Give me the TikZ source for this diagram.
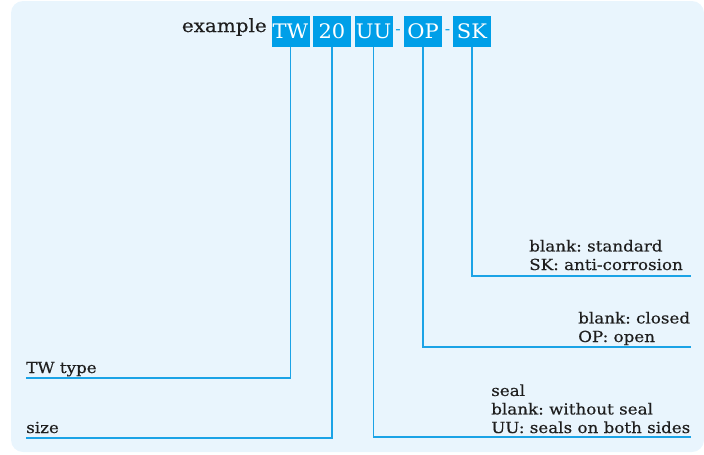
\documentclass[tikz,border=0pt]{standalone}
\usepackage{fontspec}
\setmainfont{DejaVu Serif}
\newfontfamily\labfont[FakeStretch=1.1,FakeBold=0.4]{DejaVu Serif}
\newfontfamily\codefont[FakeStretch=1.05]{DejaVu Serif}
\definecolor{bgblue}{HTML}{E9F5FD}
\definecolor{boxblue}{HTML}{009FE8}
\definecolor{lineblue}{HTML}{1BA3E6}
\definecolor{txt}{HTML}{1E1E1E}
\begin{document}
\frenchspacing
\begin{tikzpicture}[x=0.75pt,y=-0.75pt,
  codebox/.style={fill=boxblue,text=white,minimum width=28.5pt,minimum height=23.5pt,inner sep=0pt,font=\codefont\fontsize{15}{17}\selectfont},
  lab/.style={text=txt,anchor=base west,inner sep=0pt,align=left,font=\labfont\fontsize{11.4}{13.9}\selectfont},
  conn/.style={draw=lineblue,line width=1.1pt}]
\useasboundingbox (0,0) rectangle (704,454);
\fill[bgblue,rounded corners=9pt] (11,1) rectangle (704,452);
\node[text=txt,anchor=base east,inner sep=0pt,font=\labfont\fontsize{13.6}{15}\selectfont] (ex) at (267,32) {example};
\node[codebox] (tw) at (290.5,31.5) {TW};
\node[codebox] (sz) at (332,31.5) {20};
\node[codebox] (uu) at (373.5,31.5) {UU};
\node[codebox] (op) at (423,31.5) {OP};
\node[codebox] (sk) at (472,31.5) {SK};
\node[text=boxblue,inner sep=0pt,font=\fontsize{12}{14}\selectfont] (d1) at (398,32) {-};
\node[text=boxblue,inner sep=0pt,font=\fontsize{12}{14}\selectfont] (d2) at (447.5,32) {-};
% labels (anchored at the baseline of the last line)
\node[lab] (twl) at (26,373) {TW type};
\node[lab] (szl) at (26,433) {size};
\node[lab] (skl) at (529,270) {blank: standard\\SK: anti-corrosion};
\node[lab] (opl) at (578,342) {blank: closed\\OP: open};
\node[lab] (uul) at (491,433) {seal\\blank: without seal\\UU: seals on both sides};
% line ends
\coordinate (twe) at (26,378);
\coordinate (sze) at (26,438);
\coordinate (uue) at (691,437);
\coordinate (ope) at (691,347);
\coordinate (ske) at (691,276);
\draw[conn] (tw.south) |- (twe);
\draw[conn] (sz.south) |- (sze);
\draw[conn] (uu.south) |- (uue);
\draw[conn] (op.south) |- (ope);
\draw[conn] (sk.south) |- (ske);
\end{tikzpicture}
\end{document}
